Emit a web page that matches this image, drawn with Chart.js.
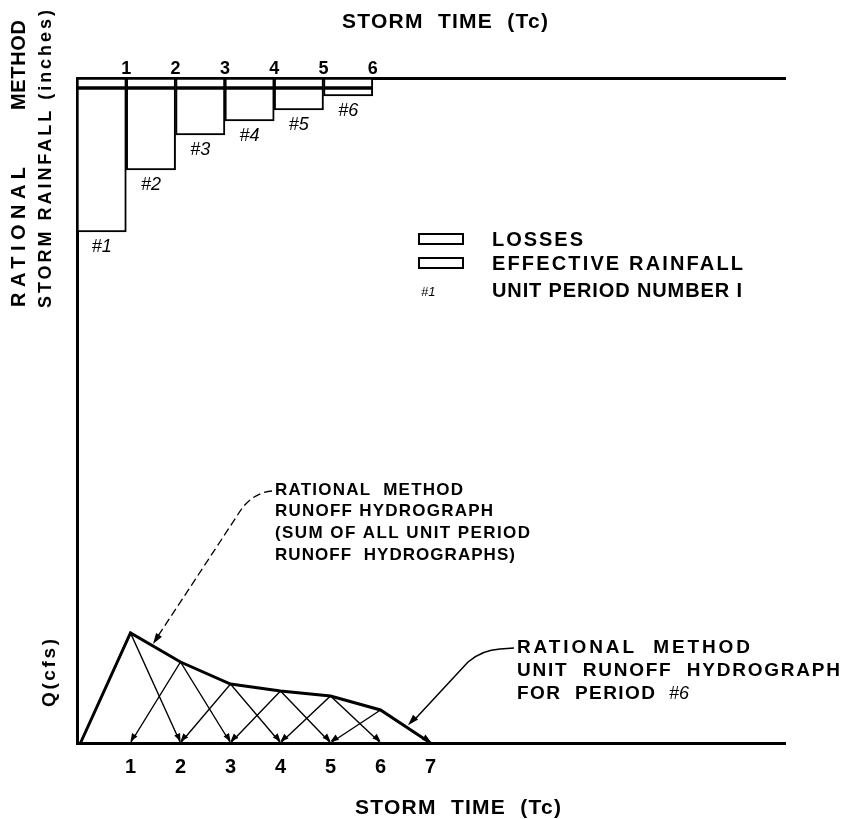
<!DOCTYPE html>
<html>
<head>
<meta charset="utf-8">
<title>Rational method storm rainfall and runoff hydrograph</title>
<script src="https://cdn.jsdelivr.net/npm/chart.js@4.4.0/dist/chart.umd.min.js"></script>
<style>
    html, body { margin: 0; padding: 0; background: #fff; }
    #wrap { width: 854px; height: 819px; }
</style>
</head>
<body>
<div id="wrap"><canvas id="hydroChart" width="854" height="819"></canvas></div>
<script>
// rainfall per unit period (inches), hung from the top axis
const PERIODS = [1, 2, 3, 4, 5, 6];
const PERIOD_LABELS = ["#1", "#2", "#3", "#4", "#5", "#6"];
const LOSSES = [0.10, 0.10, 0.10, 0.10, 0.10, 0.10];
const EFFECTIVE = [1.44, 0.82, 0.47, 0.33, 0.22, 0.08];

// runoff (cfs) at each storm time
const RUNOFF_TIME = [0, 1, 2, 3, 4, 5, 6, 7];
const RUNOFF_SUM = [0, 110, 81, 59, 52, 47, 33, 0];
const UNIT_PEAKS = [110, 81, 59, 52, 47, 33];

const TOP_TICKS = [1, 2, 3, 4, 5, 6];
const BOTTOM_TICKS = [1, 2, 3, 4, 5, 6, 7];

const AXIS_TITLE = "STORM  TIME  (Tc)";
const RAIN_TITLE = ["RATIONAL", "METHOD", "STORM RAINFALL (inches)"];
const Q_TITLE = "Q(cfs)";
const LEGEND_ITEMS = ["LOSSES", "EFFECTIVE RAINFALL", "UNIT PERIOD NUMBER I"];
const NOTE_SUM = ["RATIONAL  METHOD", "RUNOFF HYDROGRAPH", "(SUM OF ALL UNIT PERIOD", "RUNOFF  HYDROGRAPHS)"];
const NOTE_UNIT = ["RATIONAL  METHOD", "UNIT  RUNOFF  HYDROGRAPH", "FOR  PERIOD"];

const FONT = '"Liberation Sans", Arial, sans-serif';

function spacedText(ctx, text, x, y, width, font, angle) {
    ctx.save();
    ctx.translate(x, y);
    if (angle) ctx.rotate(angle);
    ctx.font = font;
    ctx.letterSpacing = "0px";
    const natural = ctx.measureText(text).width;
    if (width && text.length > 1) {
        ctx.letterSpacing = ((width - natural) / (text.length - 1)) + "px";
    }
    ctx.textAlign = "left";
    ctx.textBaseline = "middle";
    ctx.fillStyle = "#000";
    ctx.fillText(text, 0, 0);
    ctx.restore();
}

function arrowHead(ctx, fx, fy, tx, ty, len, half) {
    const a = Math.atan2(ty - fy, tx - fx);
    ctx.beginPath();
    ctx.moveTo(tx, ty);
    ctx.lineTo(tx - len * Math.cos(a) + half * Math.sin(a), ty - len * Math.sin(a) - half * Math.cos(a));
    ctx.lineTo(tx - len * Math.cos(a) - half * Math.sin(a), ty - len * Math.sin(a) + half * Math.cos(a));
    ctx.closePath();
    ctx.fill();
}

function lerpRunoff(t) {
    const i = Math.floor(t);
    const f = t - i;
    return RUNOFF_SUM[i] + f * (RUNOFF_SUM[i + 1] - RUNOFF_SUM[i]);
}

const notesPlugin = {
    id: "notes",
    afterDraw(chart) {
        const ctx = chart.ctx;
        const { x, x2, y, y2 } = chart.scales;
        ctx.save();
        ctx.fillStyle = "#000";
        ctx.strokeStyle = "#000";

        // arrow tips where each unit hydrograph meets the time axis
        const base = y2.getPixelForValue(0) - 1.5;
        UNIT_PEAKS.forEach((peak, i) => {
            const px = x.getPixelForValue(i + 1);
            const py = y2.getPixelForValue(peak);
            arrowHead(ctx, px, py, x.getPixelForValue(i + 2), base, 8, 3.2);
            if (i > 0) arrowHead(ctx, px, py, x.getPixelForValue(i), base, 8, 3.2);
        });

        // axis titles
        spacedText(ctx, AXIS_TITLE, 342, 22, 206, "bold 21px " + FONT);
        spacedText(ctx, AXIS_TITLE, 355, 808, 206, "bold 21px " + FONT);
        spacedText(ctx, RAIN_TITLE[0], 19, 307, 140, "bold 20px " + FONT, -Math.PI / 2);
        spacedText(ctx, RAIN_TITLE[1], 19, 110, 90, "bold 20px " + FONT, -Math.PI / 2);
        spacedText(ctx, RAIN_TITLE[2], 46, 308, 298, "bold 18px " + FONT, -Math.PI / 2);
        spacedText(ctx, Q_TITLE, 50, 707, 68, "bold 19px " + FONT, -Math.PI / 2);

        // period numbers under each rainfall bar
        ctx.font = "italic 18px " + FONT;
        ctx.textAlign = "center";
        ctx.textBaseline = "middle";
        PERIODS.forEach((p, i) => {
            const px = x2.getPixelForValue(p - 0.5);
            const py = y.getPixelForValue(LOSSES[i] + EFFECTIVE[i]) + 15;
            ctx.fillText(PERIOD_LABELS[i], px, py);
        });

        // legend
        ctx.lineWidth = 2;
        ctx.strokeRect(419, 234, 44, 10);
        ctx.strokeRect(419, 258, 44, 10);
        spacedText(ctx, LEGEND_ITEMS[0], 492, 240, 91, "bold 20px " + FONT);
        spacedText(ctx, LEGEND_ITEMS[1], 492, 264, 251, "bold 20px " + FONT);
        spacedText(ctx, LEGEND_ITEMS[2], 492, 291, 250, "bold 20px " + FONT);
        ctx.font = "italic 13px " + FONT;
        ctx.textAlign = "left";
        ctx.textBaseline = "middle";
        ctx.fillText(PERIOD_LABELS[0], 421, 292);

        // note for the summed hydrograph
        const noteW = [188, 218, 255, 240];
        NOTE_SUM.forEach((line, i) => {
            spacedText(ctx, line, 275, 490 + i * 21.7, noteW[i], "bold 17px " + FONT);
        });
        const t1 = 1.45;
        const tip1x = x.getPixelForValue(t1);
        const tip1y = y2.getPixelForValue(lerpRunoff(t1)) - 2;
        ctx.lineWidth = 1.3;
        ctx.setLineDash([8, 4]);
        ctx.beginPath();
        ctx.moveTo(272, 491);
        ctx.quadraticCurveTo(250, 493, 237, 516);
        ctx.lineTo(tip1x + 5, tip1y - 8);
        ctx.stroke();
        ctx.setLineDash([]);
        arrowHead(ctx, 237, 516, tip1x, tip1y, 11, 3.5);

        // note for unit hydrograph #6
        const unitW = [233, 323, 138];
        NOTE_UNIT.forEach((line, i) => {
            spacedText(ctx, line, 517, 648 + i * 23, unitW[i], "bold 19px " + FONT);
        });
        ctx.font = "italic 18px " + FONT;
        ctx.textAlign = "left";
        ctx.fillText(PERIOD_LABELS[5], 669, 694);
        const t2 = 6.55;
        const tip2x = x.getPixelForValue(t2);
        const tip2y = y2.getPixelForValue(lerpRunoff(t2)) - 3;
        ctx.lineWidth = 1.5;
        ctx.beginPath();
        ctx.moveTo(514, 648);
        ctx.lineTo(500, 649);
        ctx.quadraticCurveTo(482, 650, 468, 662);
        ctx.lineTo(tip2x + 6, tip2y - 5);
        ctx.stroke();
        arrowHead(ctx, 468, 662, tip2x, tip2y, 11, 3.5);

        ctx.restore();
    }
};

const lossBars = {
    type: "bar",
    label: "Losses",
    data: PERIODS.map((p, i) => ({ x: p - 0.5, y: [0, LOSSES[i]] })),
    xAxisID: "x2",
    yAxisID: "y",
    backgroundColor: "#fff",
    borderColor: "#000",
    borderWidth: 2,
    borderSkipped: false,
    barPercentage: 1,
    categoryPercentage: 1,
    grouped: false,
    order: 2
};

const effectiveBars = {
    type: "bar",
    label: "Effective rainfall",
    data: PERIODS.map((p, i) => ({ x: p - 0.5, y: [LOSSES[i], LOSSES[i] + EFFECTIVE[i]] })),
    xAxisID: "x2",
    yAxisID: "y",
    backgroundColor: "#fff",
    borderColor: "#000",
    borderWidth: 2,
    borderSkipped: false,
    barPercentage: 1,
    categoryPercentage: 1,
    grouped: false,
    order: 2
};

const unitLines = UNIT_PEAKS.map((peak, i) => ({
    type: "line",
    label: "Unit hydrograph " + PERIOD_LABELS[i],
    data: [{ x: i, y: 0 }, { x: i + 1, y: peak }, { x: i + 2, y: 0 }],
    xAxisID: "x",
    yAxisID: "y2",
    borderColor: "#000",
    borderWidth: 1.4,
    pointRadius: 0,
    tension: 0,
    fill: false,
    clip: false,
    order: 1
}));

const sumLine = {
    type: "line",
    label: "Runoff hydrograph",
    data: RUNOFF_TIME.map((t, i) => ({ x: t, y: RUNOFF_SUM[i] })),
    xAxisID: "x",
    yAxisID: "y2",
    borderColor: "#000",
    borderWidth: 3,
    pointRadius: 0,
    tension: 0,
    fill: false,
    clip: false,
    order: 0
};

const tickFont = (size) => ({ family: FONT, size: size, weight: "bold" });

new Chart(document.getElementById("hydroChart"), {
    type: "bar",
    data: { datasets: [lossBars, effectiveBars, ...unitLines, sumLine] },
    options: {
        responsive: false,
        animation: false,
        layout: { padding: { left: 0, top: 0, right: 69, bottom: 0 } },
        plugins: { legend: { display: false }, tooltip: { enabled: false } },
        scales: {
            x: {
                type: "linear",
                position: "bottom",
                min: -0.07,
                max: 14.09,
                offset: false,
                grid: { display: false, drawTicks: false, offset: false },
                border: { display: true, color: "#000", width: 3 },
                ticks: { font: tickFont(20), color: "#000", padding: 12, maxRotation: 0, autoSkip: false },
                afterBuildTicks: (s) => { s.ticks = BOTTOM_TICKS.map((v) => ({ value: v })); },
                afterFit: (s) => { s.height = 76; }
            },
            x2: {
                type: "linear",
                position: "top",
                min: 0,
                max: 14.36,
                offset: false,
                grid: { display: false, drawTicks: false, offset: false },
                border: { display: true, color: "#000", width: 3 },
                ticks: { font: tickFont(18), color: "#000", padding: -2, maxRotation: 0, autoSkip: false },
                afterBuildTicks: (s) => { s.ticks = TOP_TICKS.map((v) => ({ value: v })); },
                afterFit: (s) => { s.height = 78; }
            },
            y: {
                type: "linear",
                position: "left",
                reverse: true,
                min: 0,
                max: 6.65,
                grid: { display: false, drawTicks: false },
                border: { display: true, color: "#000", width: 3 },
                ticks: { display: false },
                afterFit: (s) => { s.width = 77; }
            },
            y2: {
                type: "linear",
                position: "left",
                display: false,
                min: 0,
                max: 665
            }
        }
    },
    plugins: [notesPlugin]
});
</script>
</body>
</html>
